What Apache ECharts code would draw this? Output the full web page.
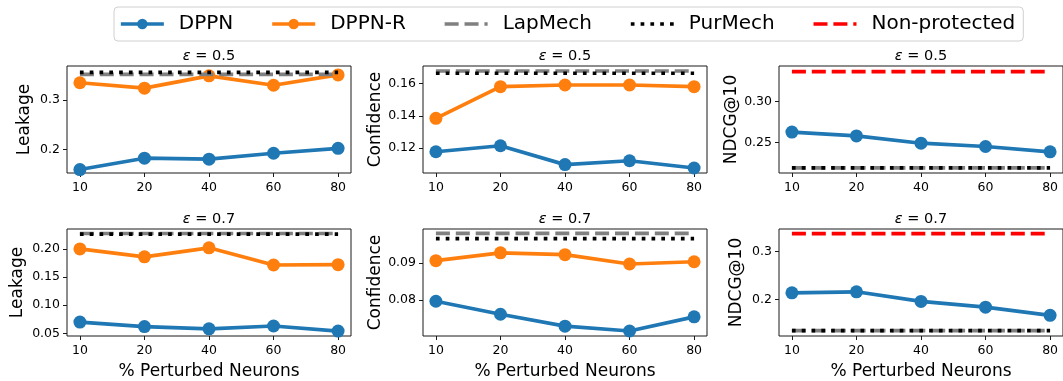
<!DOCTYPE html>
<html>
<head>
<meta charset="utf-8">
<script src="https://cdn.jsdelivr.net/npm/echarts@6/dist/echarts.min.js"></script>
<style>
html,body{margin:0;padding:0;background:#fff;}
#c{width:1063px;height:381px;}
</style>
</head>
<body>
<div id="c"></div>
<script>
// ---- data ----
const xLabels = ['10', '20', '40', '60', '80'];

// eps = 0.5
const leak05_DPPN   = [0.159, 0.182, 0.180, 0.192, 0.202];
const leak05_DPPNR  = [0.335, 0.324, 0.349, 0.330, 0.351];
const leak05_Lap    = 0.352;
const leak05_Pur    = 0.356;

const conf05_DPPN   = [0.1177, 0.1214, 0.1097, 0.1121, 0.1076];
const conf05_DPPNR  = [0.1384, 0.1581, 0.1591, 0.1591, 0.1581];
const conf05_Lap    = 0.1678;
const conf05_Pur    = 0.1664;

const ndcg05_DPPN   = [0.2627, 0.2580, 0.2492, 0.2452, 0.2388];
const ndcg05_Lap    = 0.2192;
const ndcg05_Pur    = 0.2192;
const ndcg05_Non    = 0.3360;

// eps = 0.7
const leak07_DPPN   = [0.070, 0.062, 0.058, 0.063, 0.054];
const leak07_DPPNR  = [0.200, 0.186, 0.202, 0.1715, 0.172];
const leak07_Lap    = 0.2275;
const leak07_Pur    = 0.2265;

const conf07_DPPN   = [0.0797, 0.0762, 0.0730, 0.0717, 0.0755];
const conf07_DPPNR  = [0.0906, 0.0927, 0.0922, 0.0897, 0.0903];
const conf07_Lap    = 0.0979;
const conf07_Pur    = 0.0965;

const ndcg07_DPPN   = [0.2138, 0.2159, 0.1959, 0.1840, 0.1669];
const ndcg07_Lap    = 0.1350;
const ndcg07_Pur    = 0.1350;
const ndcg07_Non    = 0.3366;

// tick values
const leak05_ticks = [0.2, 0.3];
const conf05_ticks = [0.12, 0.14, 0.16];
const ndcg05_ticks = [0.25, 0.30];
const leak07_ticks = [0.05, 0.10, 0.15, 0.20];
const conf07_ticks = [0.08, 0.09];
const ndcg07_ticks = [0.2, 0.3];

const epsTitles = ['0.5', '0.7'];

// ---- styling / layout ----
const FONT = 'DejaVu Sans';
const C_BLUE = '#1f77b4', C_ORANGE = '#ff7f0e', C_GRAY = '#808080', C_BLACK = '#000000', C_RED = '#ff0000';
const LW = 3.7;

const panels = [
  {left: 67,  top: 66,  name: 'Leakage',    gap: 34, yMin: 0.152,  yMax: 0.369,  ticks: leak05_ticks, dec: 1, dppn: leak05_DPPN, dppnr: leak05_DPPNR, lap: leak05_Lap, pur: leak05_Pur, non: null, eps: 0, xname: false},
  {left: 423, top: 66,  name: 'Confidence', gap: 39, yMin: 0.1045, yMax: 0.1709, ticks: conf05_ticks, dec: 2, dppn: conf05_DPPN, dppnr: conf05_DPPNR, lap: conf05_Lap, pur: conf05_Pur, non: null, eps: 0, xname: false},
  {left: 779, top: 66,  name: 'NDCG@10',    gap: 38, yMin: 0.2131, yMax: 0.3428, ticks: ndcg05_ticks, dec: 2, dppn: ndcg05_DPPN, dppnr: null, lap: ndcg05_Lap, pur: ndcg05_Pur, non: ndcg05_Non, eps: 0, xname: false},
  {left: 67,  top: 229, name: 'Leakage',    gap: 41, yMin: 0.0452, yMax: 0.2355, ticks: leak07_ticks, dec: 2, dppn: leak07_DPPN, dppnr: leak07_DPPNR, lap: leak07_Lap, pur: leak07_Pur, non: null, eps: 1, xname: true},
  {left: 423, top: 229, name: 'Confidence', gap: 39, yMin: 0.07036,yMax: 0.0991, ticks: conf07_ticks, dec: 2, dppn: conf07_DPPN, dppnr: conf07_DPPNR, lap: conf07_Lap, pur: conf07_Pur, non: null, eps: 1, xname: true},
  {left: 779, top: 229, name: 'NDCG@10',    gap: 34, yMin: 0.124,  yMax: 0.3464, ticks: ndcg07_ticks, dec: 1, dppn: ndcg07_DPPN, dppnr: null, lap: ndcg07_Lap, pur: ndcg07_Pur, non: ndcg07_Non, eps: 1, xname: true}
];
const PW = 284, PH = 107;

const grids = [], xAxes = [], yAxes = [], series = [], titles = [];
const xIdx = xLabels.map((_, i) => i);

panels.forEach((p, k) => {
  grids.push({left: p.left, top: p.top, width: PW, height: PH, show: true, borderColor: '#1a1a1a', borderWidth: 1, backgroundColor: 'transparent', containLabel: false});
  xAxes.push({
    type: 'value', gridIndex: k, min: -0.2, max: 4.2, position: 'bottom',
    axisLine: {show: false, onZero: false}, splitLine: {show: false},
    axisTick: {show: true, inside: false, length: 4, customValues: xIdx, lineStyle: {color: '#1a1a1a', width: 1}},
    axisLabel: {customValues: xIdx, formatter: v => xLabels[Math.round(v)], color: '#000', fontFamily: FONT, fontSize: 12.5, margin: 8},
    name: p.xname ? '% Perturbed Neurons' : '', nameLocation: 'middle', nameGap: 27,
    nameTextStyle: {fontFamily: FONT, fontSize: 17, color: '#000'}
  });
  yAxes.push({
    type: 'value', gridIndex: k, min: p.yMin, max: p.yMax, position: 'left',
    axisLine: {show: false, onZero: false}, splitLine: {show: false},
    axisTick: {show: true, inside: false, length: 4, customValues: p.ticks, lineStyle: {color: '#1a1a1a', width: 1}},
    axisLabel: {customValues: p.ticks, formatter: v => v.toFixed(p.dec), color: '#000', fontFamily: FONT, fontSize: 12.5, margin: 7},
    name: p.name, nameLocation: 'middle', nameRotate: 90, nameGap: p.gap,
    nameTextStyle: {fontFamily: FONT, fontSize: 17, color: '#000'}
  });
  titles.push({
    text: '{e|ε} = ' + epsTitles[p.eps],
    left: p.left + PW / 2, top: p.top - 17, textAlign: 'center', padding: 0,
    textStyle: {fontFamily: FONT, fontSize: 14.5, fontWeight: 'normal', color: '#000',
      rich: {e: {fontFamily: FONT, fontSize: 14.5, fontStyle: 'italic', color: '#000'}}}
  });
  const pts = arr => arr.map((v, i) => [i, v]);
  const flat = v => xIdx.map(i => [i, v]);
  series.push({name: 'DPPN', type: 'line', xAxisIndex: k, yAxisIndex: k, data: pts(p.dppn),
    symbol: 'circle', symbolSize: 13, color: C_BLUE, lineStyle: {width: LW, color: C_BLUE}, itemStyle: {color: C_BLUE}, animation: false, z: 2});
  if (p.dppnr) series.push({name: 'DPPN-R', type: 'line', xAxisIndex: k, yAxisIndex: k, data: pts(p.dppnr),
    symbol: 'circle', symbolSize: 13, color: C_ORANGE, lineStyle: {width: LW, color: C_ORANGE}, itemStyle: {color: C_ORANGE}, animation: false, z: 2});
  series.push({name: 'LapMech', type: 'line', xAxisIndex: k, yAxisIndex: k, data: flat(p.lap),
    symbol: 'none', color: C_GRAY, lineStyle: {width: LW, color: C_GRAY, type: [14, 5.9], cap: 'butt'}, animation: false, z: 3});
  series.push({name: 'PurMech', type: 'line', xAxisIndex: k, yAxisIndex: k, data: flat(p.pur),
    symbol: 'none', color: C_BLACK, lineStyle: {width: LW, color: C_BLACK, type: [3.7, 6.1], cap: 'butt'}, animation: false, z: 3});
  if (p.non !== null) series.push({name: 'Non-protected', type: 'line', xAxisIndex: k, yAxisIndex: k, data: flat(p.non),
    symbol: 'none', color: C_RED, lineStyle: {width: LW, color: C_RED, type: [14, 5.9], cap: 'butt'}, animation: false, z: 3});
});

const chart = echarts.init(document.getElementById('c'), null, {renderer: 'canvas'});
chart.setOption({
  animation: false,
  backgroundColor: '#fff',
  title: titles,
  legend: {
    data: [
      {name: 'DPPN', lineStyle: {width: LW}},
      {name: 'DPPN-R', lineStyle: {width: LW}},
      {name: 'LapMech', itemStyle: {opacity: 0}, lineStyle: {width: LW}},
      {name: 'PurMech', itemStyle: {opacity: 0}, lineStyle: {width: LW}},
      {name: 'Non-protected', itemStyle: {opacity: 0}, lineStyle: {width: LW}}
    ],
    left: 114, top: 7, orient: 'horizontal',
    padding: [7, 8, 7, 5], itemGap: 37, itemWidth: 43, itemHeight: 13,
    borderColor: '#d0d0d0', borderWidth: 1, borderRadius: 4,
    textStyle: {fontFamily: FONT, fontSize: 20, color: '#000', padding: [0, 0, 0, 10]}
  },
  grid: grids,
  xAxis: xAxes,
  yAxis: yAxes,
  series: series
});
</script>
</body>
</html>
